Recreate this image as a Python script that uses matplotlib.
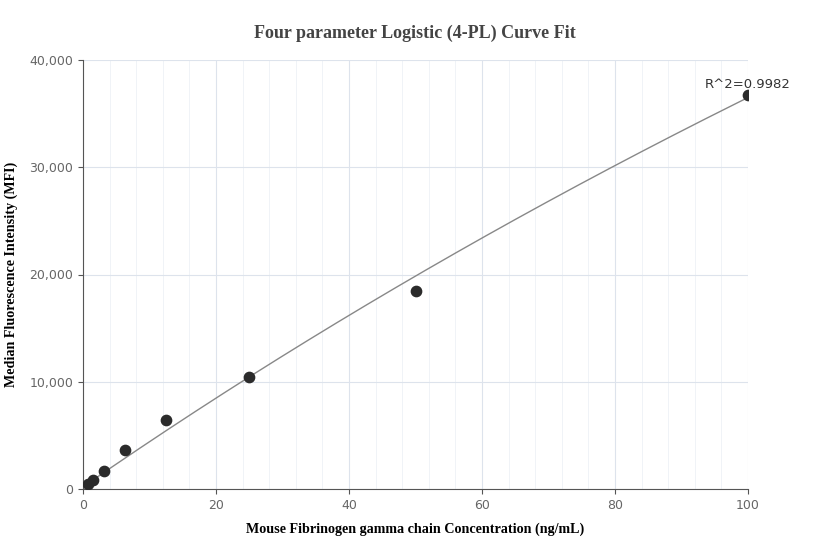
import numpy as np
import matplotlib.pyplot as plt
from matplotlib.ticker import FuncFormatter, MultipleLocator

# measured standards
conc = [0.78, 1.56, 3.125, 6.25, 12.5, 25, 50, 100]
mfi = [470, 800, 1680, 3640, 6440, 10450, 18470, 36750]

# 4-PL fit parameters (a, b, c, d)
fit_a, fit_b, fit_c, fit_d = 200, 1.0, 553.6, 237460
r2_label = "R^2=0.9982"

fig = plt.figure(figsize=(8.32, 5.6), dpi=100)
ax = fig.add_axes([83 / 832, 1 - 489 / 560, 665 / 832, 429 / 560])

xs = np.linspace(0.5, 100, 400)
ys = fit_d + (fit_a - fit_d) / (1 + (xs / fit_c) ** fit_b)
ax.plot(xs, ys, color="#888888", lw=1)
ax.scatter(conc, mfi, s=55, color="#2b2b2b", zorder=3)
ax.annotate(r2_label, (conc[-1], mfi[-1]), xytext=(0, 3), textcoords="offset points",
            ha="center", va="bottom", fontsize=9.5, color="#333333")

ax.set_xlim(0, 100)
ax.set_ylim(0, 40000)
ax.xaxis.set_major_locator(MultipleLocator(20))
ax.xaxis.set_minor_locator(MultipleLocator(4))
ax.yaxis.set_major_locator(MultipleLocator(10000))
ax.yaxis.set_major_formatter(FuncFormatter(lambda v, p: f"{int(v):,}"))
ax.grid(which="major", color="#dde3ec", lw=0.8)
ax.grid(which="minor", axis="x", color="#eef1f6", lw=0.6)
ax.set_axisbelow(True)
for s in ["top", "right"]:
    ax.spines[s].set_visible(False)
for s in ["left", "bottom"]:
    ax.spines[s].set_color("#555555")
ax.tick_params(which="both", colors="#555555", labelsize=9, labelcolor="#666666")
ax.tick_params(which="minor", length=0)

serif = "Liberation Serif"
ax.set_xlabel("Mouse Fibrinogen gamma chain Concentration (ng/mL)", fontfamily=serif,
              fontweight="bold", fontsize=10.2, labelpad=8)
ax.set_ylabel("Median Fluorescence Intensity (MFI)", fontfamily=serif,
              fontweight="bold", fontsize=10.2, labelpad=8)
fig.text(415 / 832, 1 - 33 / 560, "Four parameter Logistic (4-PL) Curve Fit", ha="center",
         va="center", fontfamily=serif, fontweight="bold", fontsize=13, color="#444444")

fig.savefig("out.png", dpi=100)
